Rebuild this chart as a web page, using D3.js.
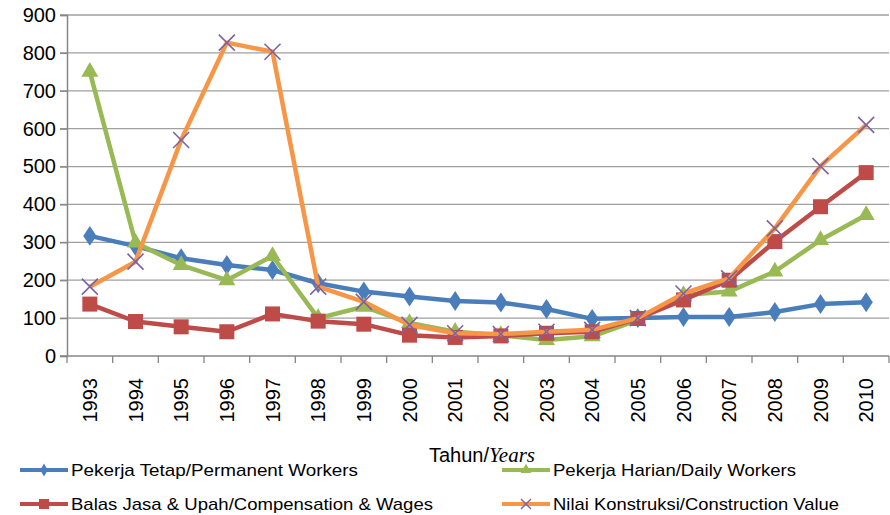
<!DOCTYPE html>
<html>
<head>
<meta charset="utf-8">
<script src="https://cdn.jsdelivr.net/npm/d3@7"></script>
<style>
  body { margin: 0; background: #fff; }
  svg { display: block; }
</style>
</head>
<body>
<div id="chart"></div>
<script>
// data
const years = ["1993","1994","1995","1996","1997","1998","1999","2000","2001",
               "2002","2003","2004","2005","2006","2007","2008","2009","2010"];
const permanentWorkers = [317, 290, 258, 240, 227, 192, 170, 157, 145, 141, 124, 98, 100, 103, 103, 116, 137, 142];
const dailyWorkers     = [750, 299, 240, 200, 264, 100, 130, 87, 64, 55, 42, 52, 95, 161, 170, 223, 306, 372];
const compensation     = [137, 91, 77, 64, 111, 92, 84, 55, 49, 53, 60, 64, 99, 148, 200, 302, 394, 484];
const constructionVal  = [183, 249, 570, 827, 803, 183, 143, 82, 60, 58, 64, 69, 100, 165, 205, 337, 501, 610];
const yTicks = [0, 100, 200, 300, 400, 500, 600, 700, 800, 900];

const series = [
  { name: "Pekerja Tetap/Permanent Workers", values: permanentWorkers, color: "#4a7ebb", marker: "diamond" },
  { name: "Pekerja Harian/Daily Workers", values: dailyWorkers, color: "#98b954", marker: "triangle" },
  { name: "Balas Jasa & Upah/Compensation & Wages", values: compensation, color: "#be4b48", marker: "square" },
  { name: "Nilai Konstruksi/Construction Value", values: constructionVal, color: "#f79646", marker: "cross" }
];

const width = 890, height = 515;
const plot = { left: 67, right: 889, top: 15, bottom: 356 };

const svg = d3.select("#chart").append("svg")
  .attr("width", width)
  .attr("height", height)
  .style("font-family", "'Liberation Sans', Arial, sans-serif");

const x = d3.scaleBand().domain(years).range([plot.left, plot.right]);
const y = d3.scaleLinear().domain([0, 900]).range([plot.bottom, plot.top]);

// gridlines
svg.append("g").selectAll("line")
  .data(yTicks.filter(d => d > 0))
  .enter().append("line")
  .attr("x1", plot.left - 7).attr("x2", plot.right)
  .attr("y1", d => y(d)).attr("y2", d => y(d))
  .attr("stroke", "#a0a0a0").attr("stroke-width", 1.3);

// y axis
const yAxis = d3.axisLeft(y).tickValues(yTicks).tickSize(7).tickPadding(4);
const gy = svg.append("g").attr("transform", "translate(" + plot.left + ",0)").call(yAxis);
gy.select(".domain").attr("stroke", "#868686").attr("stroke-width", 1.5);
gy.selectAll(".tick line").attr("stroke", "#868686").attr("stroke-width", 1.3);
gy.selectAll("text").attr("font-size", "20px").attr("fill", "#000")
  .attr("font-family", "'Liberation Sans', Arial, sans-serif");

// x axis line + ticks at band boundaries
svg.append("line")
  .attr("x1", plot.left - 7).attr("x2", plot.right)
  .attr("y1", plot.bottom).attr("y2", plot.bottom)
  .attr("stroke", "#868686").attr("stroke-width", 1.5);
svg.append("g").selectAll("line")
  .data(years.concat(["end"]))
  .enter().append("line")
  .attr("x1", (d, i) => plot.left + i * x.step())
  .attr("x2", (d, i) => plot.left + i * x.step())
  .attr("y1", plot.bottom).attr("y2", plot.bottom + 7)
  .attr("stroke", "#868686").attr("stroke-width", 1.3);

// year labels (rotated)
svg.append("g").selectAll("text")
  .data(years)
  .enter().append("text")
  .attr("transform", d => "translate(" + (x(d) + x.bandwidth() / 2 + 7) + "," + 378 + ") rotate(-90)")
  .attr("text-anchor", "end")
  .attr("font-size", "20px")
  .attr("fill", "#000")
  .text(d => d);

// axis title
const title = svg.append("text")
  .attr("x", 482).attr("y", 462)
  .attr("text-anchor", "middle")
  .attr("font-size", "20px");
title.append("tspan").text("Tahun/");
title.append("tspan").attr("font-family", "'Liberation Serif', 'Times New Roman', serif")
  .attr("font-style", "italic").attr("font-size", "21px").text("Years");

// marker drawing
function drawMarker(g, type, cx, cy, color) {
  if (type === "diamond") {
    g.append("path").attr("d", d3.symbol(d3.symbolDiamond, 115)())
      .attr("transform", "translate(" + cx + "," + cy + ") scale(1.15,1)")
      .attr("fill", color);
  } else if (type === "square") {
    g.append("rect").attr("x", cx - 7.5).attr("y", cy - 7.5)
      .attr("width", 15).attr("height", 15).attr("fill", color);
  } else if (type === "triangle") {
    g.append("path").attr("d", d3.symbol(d3.symbolTriangle, 125)())
      .attr("transform", "translate(" + cx + "," + cy + ")")
      .attr("fill", color);
  } else if (type === "cross") {
    const s = 8;
    g.append("path")
      .attr("d", "M" + (cx - s) + "," + (cy - s) + "L" + (cx + s) + "," + (cy + s) +
                 "M" + (cx - s) + "," + (cy + s) + "L" + (cx + s) + "," + (cy - s))
      .attr("stroke", "#7e62a1").attr("stroke-width", 1.6).attr("fill", "none");
  }
}

const line = d3.line()
  .x((d, i) => x(years[i]) + x.bandwidth() / 2)
  .y(d => y(d));

series.forEach(s => {
  const g = svg.append("g");
  g.append("path").datum(s.values)
    .attr("d", line)
    .attr("fill", "none")
    .attr("stroke", s.color)
    .attr("stroke-width", 4.5)
    .attr("stroke-linejoin", "round");
  s.values.forEach((v, i) => {
    drawMarker(g, s.marker, x(years[i]) + x.bandwidth() / 2, y(v), s.color);
  });
});

// legend
const legendPos = [
  { x: 20, y: 470, w: 287 },
  { x: 502, y: 470, w: 243 },
  { x: 20, y: 504, w: 362 },
  { x: 502, y: 504, w: 286 }
];
series.forEach((s, i) => {
  const p = legendPos[i];
  const g = svg.append("g");
  g.append("line").attr("x1", p.x).attr("x2", p.x + 48)
    .attr("y1", p.y).attr("y2", p.y)
    .attr("stroke", s.color).attr("stroke-width", 4);
  const lg = g.append("g");
  if (s.marker === "cross") {
    lg.append("path")
      .attr("d", "M" + (p.x + 19) + "," + (p.y - 5) + "L" + (p.x + 29) + "," + (p.y + 5) +
                 "M" + (p.x + 19) + "," + (p.y + 5) + "L" + (p.x + 29) + "," + (p.y - 5))
      .attr("stroke", "#7e62a1").attr("stroke-width", 1.4).attr("fill", "none");
  } else if (s.marker === "square") {
    lg.append("rect").attr("x", p.x + 19).attr("y", p.y - 5).attr("width", 10).attr("height", 10).attr("fill", s.color);
  } else if (s.marker === "diamond") {
    lg.append("path").attr("d", d3.symbol(d3.symbolDiamond, 50)())
      .attr("transform", "translate(" + (p.x + 24) + "," + p.y + ")").attr("fill", s.color);
  } else {
    lg.append("path").attr("d", d3.symbol(d3.symbolTriangle, 50)())
      .attr("transform", "translate(" + (p.x + 24) + "," + p.y + ")").attr("fill", s.color);
  }
  g.append("text").attr("x", p.x + 51).attr("y", p.y + 6)
    .attr("font-size", "17px").attr("fill", "#000")
    .attr("textLength", p.w).attr("lengthAdjust", "spacingAndGlyphs")
    .text(s.name);
});
</script>
</body>
</html>
